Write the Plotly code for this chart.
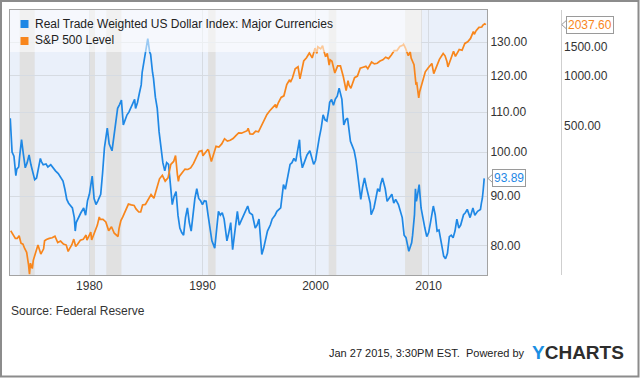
import math
import plotly.graph_objects as go

# ---------------- data ----------------
usd_dates = [
    "1973-01", "1973-02", "1973-03", "1973-05", "1973-07", "1973-08", "1973-10", "1973-11",
    "1974-01", "1974-03", "1974-04", "1974-05", "1974-07", "1974-09", "1974-11",
    "1975-01", "1975-03", "1975-05", "1975-07", "1975-09", "1975-10", "1975-12",
    "1976-03", "1976-05", "1976-08", "1976-11",
    "1977-01", "1977-04", "1977-07", "1977-09", "1977-11",
    "1978-01", "1978-03", "1978-05", "1978-07", "1978-09", "1978-10", "1978-11",
    "1979-02", "1979-04", "1979-07", "1979-09", "1979-11",
    "1980-01", "1980-03", "1980-04", "1980-06", "1980-08", "1980-10",
    "1981-01", "1981-03", "1981-05", "1981-08", "1981-10",
    "1982-01", "1982-03", "1982-05", "1982-07", "1982-09", "1982-11",
    "1983-01", "1983-03", "1983-05", "1983-07", "1983-09", "1983-11",
    "1984-01", "1984-02", "1984-04", "1984-06", "1984-08", "1984-09", "1984-11",
    "1985-01", "1985-03", "1985-05", "1985-06", "1985-08", "1985-09", "1985-11",
    "1986-01", "1986-03", "1986-05", "1986-07", "1986-09", "1986-11",
    "1987-01", "1987-03", "1987-05", "1987-07", "1987-09", "1987-11",
    "1988-01", "1988-03", "1988-05", "1988-07", "1988-09", "1988-11",
    "1989-01", "1989-03", "1989-05", "1989-07", "1989-09", "1989-11",
    "1990-01", "1990-03", "1990-05", "1990-07", "1990-09", "1990-11",
    "1991-02", "1991-04", "1991-06", "1991-08", "1991-10", "1991-12",
    "1992-03", "1992-05", "1992-07", "1992-09", "1992-11",
    "1993-02", "1993-04", "1993-07", "1993-09", "1993-11",
    "1994-01", "1994-03", "1994-06", "1994-09", "1994-11",
    "1995-01", "1995-03", "1995-04", "1995-06", "1995-08", "1995-10",
    "1996-01", "1996-03", "1996-06", "1996-08", "1996-12",
    "1997-03", "1997-05", "1997-07", "1997-10", "1997-12",
    "1998-02", "1998-04", "1998-06", "1998-08", "1998-09", "1998-11",
    "1999-01", "1999-04", "1999-07", "1999-09", "1999-11",
    "2000-01", "2000-03", "2000-05", "2000-07", "2000-09", "2000-11",
    "2001-01", "2001-03", "2001-04", "2001-06", "2001-08", "2001-10", "2001-12",
    "2002-02", "2002-04", "2002-05", "2002-07", "2002-09", "2002-11",
    "2003-01", "2003-02", "2003-04", "2003-06", "2003-08", "2003-10",
    "2004-01", "2004-03", "2004-05", "2004-07", "2004-09", "2004-11", "2004-12",
    "2005-01", "2005-03", "2005-05", "2005-07", "2005-09", "2005-10", "2005-12",
    "2006-02", "2006-03", "2006-05", "2006-07", "2006-10", "2006-12",
    "2007-02", "2007-05", "2007-07", "2007-09", "2007-11",
    "2008-01", "2008-04", "2008-07", "2008-08", "2008-10", "2008-11", "2008-12",
    "2009-01", "2009-03", "2009-05", "2009-07", "2009-09", "2009-11",
    "2010-01", "2010-03", "2010-06", "2010-08", "2010-10", "2010-12",
    "2011-01", "2011-03", "2011-05", "2011-07", "2011-09", "2011-11",
    "2012-01", "2012-03", "2012-05", "2012-07", "2012-09", "2012-11",
    "2013-02", "2013-04", "2013-06", "2013-09", "2013-12",
    "2014-02", "2014-05", "2014-08", "2014-09", "2014-10", "2014-11", "2014-12",
]
usd_values = [
    108.4, 104.0, 100.0, 99.0, 94.5, 96.0, 96.5, 99.0,
    103.0, 99.5, 97.0, 96.3, 97.5, 99.3, 97.0,
    95.0, 93.6, 94.0, 96.0, 98.5, 97.8, 97.0,
    97.2, 96.5, 97.0, 96.0,
    95.6, 95.0, 94.0, 93.3, 91.5,
    89.3, 88.5, 88.0, 87.5, 85.5, 82.8, 84.5,
    85.8, 86.5, 87.5, 86.0, 89.0,
    90.4, 93.0, 94.4, 89.5, 88.2, 89.0,
    90.4, 95.0, 101.0, 105.9, 102.0,
    100.3, 104.0, 106.5, 111.0, 112.0, 113.2,
    106.7, 108.0, 109.3, 110.0, 111.0, 112.0,
    113.4, 111.0, 112.5, 115.0, 117.4, 121.0, 124.1,
    127.5, 131.1, 127.0, 126.3, 121.0, 119.3, 114.0,
    111.0, 105.0, 100.3, 97.5, 95.6, 97.5,
    97.1, 92.0, 88.2, 90.0, 91.0, 86.0,
    83.4, 82.5, 82.0, 85.5, 87.5, 84.5,
    82.8, 86.0, 89.5, 91.6, 89.5, 89.0,
    88.2, 89.0, 88.9, 86.0, 83.0, 80.9,
    79.5, 83.0, 86.8, 86.0, 86.5, 85.2,
    80.9, 82.5, 84.5, 79.2, 82.0,
    86.8, 84.0, 85.2, 86.0, 87.0,
    87.9, 86.5, 86.1, 83.4, 84.0,
    85.2, 80.0, 78.3, 79.5, 81.5, 82.8,
    84.0, 85.2, 86.0, 86.8, 87.5,
    92.5, 91.5, 94.0, 97.1, 97.5,
    98.5, 97.8, 100.0, 103.0, 99.0, 96.3,
    97.5, 99.3, 100.3, 98.5, 97.1,
    98.0, 101.0, 103.5, 105.9, 109.3, 108.0,
    107.7, 110.5, 112.6, 113.4, 111.8, 113.5, 114.3,
    116.5, 114.5, 113.4, 106.7, 108.0, 108.4,
    104.5, 102.6, 101.5, 100.3, 98.0, 94.8,
    89.3, 92.0, 94.0, 92.0, 90.4, 88.5, 86.1,
    86.5, 87.5, 89.5, 91.6, 91.0, 92.5, 94.0,
    92.5, 91.6, 88.9, 89.5, 90.4, 88.5,
    89.3, 88.2, 86.8, 85.5, 82.0,
    81.5, 78.9, 80.5, 82.0, 86.1, 91.6, 88.9,
    90.0, 92.5, 87.5, 85.0, 83.4, 81.7,
    82.5, 84.5, 87.9, 86.1, 82.8, 83.0,
    81.7, 80.0, 78.0, 77.5, 78.5, 81.7,
    82.0, 81.5, 82.8, 85.2, 83.4, 84.0,
    86.1, 86.5, 87.2, 85.5, 87.5,
    86.0, 86.8, 87.2, 88.5, 89.5, 91.5, 93.89,
]

spx_dates = [
    "1973-01", "1973-03", "1973-06", "1973-08", "1973-10", "1973-12",
    "1974-02", "1974-04", "1974-06", "1974-08", "1974-09", "1974-10", "1974-12",
    "1975-01", "1975-03", "1975-06", "1975-09", "1975-12",
    "1976-01", "1976-03", "1976-06", "1976-09", "1976-12",
    "1977-03", "1977-06", "1977-09", "1977-12",
    "1978-02", "1978-03", "1978-06", "1978-08", "1978-10", "1978-12",
    "1979-03", "1979-06", "1979-09", "1979-10", "1979-12",
    "1980-02", "1980-03", "1980-06", "1980-09", "1980-11", "1980-12",
    "1981-03", "1981-06", "1981-09", "1981-12",
    "1982-03", "1982-07", "1982-08", "1982-10", "1982-12",
    "1983-03", "1983-06", "1983-09", "1983-12",
    "1984-02", "1984-05", "1984-07", "1984-09", "1984-12",
    "1985-03", "1985-06", "1985-09", "1985-12",
    "1986-03", "1986-06", "1986-09", "1986-12",
    "1987-03", "1987-06", "1987-08", "1987-10", "1987-11", "1987-12",
    "1988-03", "1988-06", "1988-09", "1988-12",
    "1989-03", "1989-06", "1989-09", "1989-12",
    "1990-01", "1990-06", "1990-07", "1990-10", "1990-12",
    "1991-03", "1991-06", "1991-09", "1991-12",
    "1992-03", "1992-06", "1992-09", "1992-12",
    "1993-03", "1993-06", "1993-09", "1993-12",
    "1994-01", "1994-03", "1994-06", "1994-09", "1994-12",
    "1995-03", "1995-06", "1995-09", "1995-12",
    "1996-03", "1996-06", "1996-07", "1996-09", "1996-12",
    "1997-03", "1997-06", "1997-09", "1997-10", "1997-12",
    "1998-03", "1998-06", "1998-08", "1998-09", "1998-12",
    "1999-03", "1999-06", "1999-09", "1999-12",
    "2000-02", "2000-03", "2000-06", "2000-08", "2000-09", "2000-11", "2000-12",
    "2001-01", "2001-03", "2001-04", "2001-06", "2001-09", "2001-12",
    "2002-03", "2002-06", "2002-07", "2002-09", "2002-11", "2002-12",
    "2003-02", "2003-06", "2003-09", "2003-12",
    "2004-03", "2004-06", "2004-08", "2004-12",
    "2005-03", "2005-06", "2005-09", "2005-12",
    "2006-03", "2006-06", "2006-09", "2006-12",
    "2007-03", "2007-06", "2007-09", "2007-10", "2007-12",
    "2008-03", "2008-05", "2008-06", "2008-09", "2008-10", "2008-11", "2008-12",
    "2009-02", "2009-03", "2009-06", "2009-09", "2009-12",
    "2010-04", "2010-06", "2010-09", "2010-12",
    "2011-04", "2011-06", "2011-08", "2011-09", "2011-12",
    "2012-03", "2012-05", "2012-09", "2012-12",
    "2013-03", "2013-06", "2013-09", "2013-12",
    "2014-01", "2014-03", "2014-06", "2014-09", "2014-10", "2014-12",
]
spx_values = [
    116.0, 111.5, 104.3, 104.3, 108.3, 97.6,
    96.2, 90.3, 86.0, 72.2, 63.5, 73.9, 68.6,
    76.9, 83.4, 95.2, 83.9, 90.2,
    100.9, 102.8, 104.3, 105.2, 107.5,
    98.4, 100.5, 96.5, 95.1,
    87.0, 89.2, 95.5, 103.3, 93.2, 96.1,
    101.6, 102.9, 109.3, 101.8, 107.9,
    113.7, 102.1, 114.2, 125.5, 140.5, 135.8,
    136.0, 131.2, 116.2, 122.6,
    112.0, 107.1, 119.5, 133.7, 140.6,
    153.0, 168.1, 166.1, 164.9,
    157.1, 150.6, 150.7, 166.1, 167.2,
    180.7, 191.9, 182.1, 211.3,
    238.9, 250.8, 231.3, 242.2,
    291.7, 304.0, 329.8, 251.8, 230.3, 247.1,
    258.9, 273.5, 271.9, 277.7,
    294.9, 318.0, 349.2, 353.4,
    329.1, 358.0, 356.2, 304.0, 330.2,
    375.2, 371.2, 387.9, 417.1,
    403.7, 408.1, 417.8, 435.7,
    451.7, 450.5, 458.9, 466.5,
    481.6, 445.8, 444.3, 462.7, 459.3,
    500.7, 544.8, 584.4, 615.9,
    645.5, 670.6, 639.9, 687.3, 740.7,
    757.1, 885.1, 947.3, 914.6, 970.4,
    1101.8, 1133.8, 957.3, 1017.0, 1229.2,
    1286.4, 1372.7, 1282.7, 1469.3,
    1366.4, 1498.6, 1454.6, 1517.7, 1436.5, 1315.2, 1320.3,
    1366.0, 1160.3, 1249.5, 1224.4, 1040.9, 1148.1,
    1147.4, 989.8, 911.6, 815.3, 936.3, 879.8,
    841.2, 974.5, 996.0, 1111.9,
    1126.2, 1140.8, 1104.2, 1211.9,
    1180.6, 1191.3, 1228.8, 1248.3,
    1294.9, 1270.2, 1335.9, 1418.3,
    1420.9, 1503.4, 1526.8, 1549.4, 1468.4,
    1322.7, 1400.4, 1280.0, 1166.4, 968.8, 896.2, 903.3,
    735.1, 797.9, 919.3, 1057.1, 1115.1,
    1186.7, 1030.7, 1141.2, 1257.6,
    1363.6, 1320.6, 1219.0, 1131.4, 1257.6,
    1408.5, 1310.3, 1440.7, 1426.2,
    1569.2, 1606.3, 1681.6, 1848.4,
    1782.6, 1872.3, 1960.2, 1972.3, 2018.1, 2058.9,
]
spx_last_date = "2015-01-27"
spx_last_value = 2037.60

recession_starts = ["1973-11-01", "1980-01-01", "1981-07-01", "1990-07-01", "2001-03-01", "2007-12-01"]
recession_ends = ["1975-03-01", "1980-07-01", "1982-11-01", "1991-03-01", "2001-11-01", "2009-06-01"]

usd_ticks = [80, 90, 100, 110, 120, 130]
spx_ticks = [500, 1000, 1500]
year_ticks = ["1980-01-01", "1990-01-01", "2000-01-01", "2010-01-01"]
year_labels = ["1980", "1990", "2000", "2010"]

usd_range = [74.55, 140.4]
spx_range = [62.7, 2497]
x_range = ["1972-12-24", "2015-03-01"]

# ---------------- styling ----------------
W, H = 640, 378
ML, MR, MT, MB = 10, 10, 10, 103
PW, PH = W - ML - MR, H - MT - MB
X_DOMAIN_END = (487 - ML) / PW
Y2_POS = (560.7 - ML) / PW

BLUE = "#1f88e5"
ORANGE = "#f8861c"
FONT = "Arial, Liberation Sans, sans-serif"
TXT = "#333333"


def px_x(px):
    return (px - ML) / PW


def px_y(py):
    return (MT + PH - py) / PH


def paper_y(value, rng):
    lo, hi = math.log10(rng[0]), math.log10(rng[1])
    return (math.log10(value) - lo) / (hi - lo)


fig = go.Figure()

fig.add_trace(go.Scatter(
    x=[d + "-15" for d in spx_dates] + [spx_last_date],
    y=spx_values + [spx_last_value],
    mode="lines", line=dict(color=ORANGE, width=1.7),
    yaxis="y2", showlegend=False, hoverinfo="skip",
))
fig.add_trace(go.Scatter(
    x=[d + "-01" for d in usd_dates], y=usd_values,
    mode="lines", line=dict(color=BLUE, width=1.7),
    yaxis="y", showlegend=False, hoverinfo="skip",
))

shapes = []
for s, e in zip(recession_starts, recession_ends):
    shapes.append(dict(type="rect", xref="x", yref="paper", x0=s, x1=e, y0=0, y1=1,
                       fillcolor="#e1e1e1", line=dict(width=0), layer="below"))

# translucent legend panel
shapes.append(dict(type="rect", xref="paper", yref="paper",
                   x0=0, x1=px_x(421), y0=px_y(52), y1=1,
                   fillcolor="rgba(255,255,255,0.55)", line=dict(width=0), layer="above"))
# legend squares
shapes.append(dict(type="rect", xref="paper", yref="paper",
                   x0=px_x(20.5), x1=px_x(28.5), y0=px_y(28), y1=px_y(20),
                   fillcolor=BLUE, line=dict(width=0), layer="above"))
shapes.append(dict(type="rect", xref="paper", yref="paper",
                   x0=px_x(20.5), x1=px_x(28.5), y0=px_y(45), y1=px_y(37),
                   fillcolor=ORANGE, line=dict(width=0), layer="above"))
# outer frame
shapes.append(dict(type="rect", xref="paper", yref="paper",
                   x0=px_x(1), x1=px_x(638.5), y0=px_y(376.5), y1=px_y(1),
                   line=dict(color="#8c8c8c", width=2), fillcolor="rgba(0,0,0,0)", layer="above"))

# pointer triangles for last-value flags
usd_last_py = paper_y(usd_values[-1], usd_range)
spx_last_py = paper_y(spx_last_value, spx_range)
for xa, ya in [(X_DOMAIN_END, usd_last_py), (Y2_POS, spx_last_py)]:
    shapes.append(dict(type="path", xref="paper", yref="paper",
                       xsizemode="pixel", ysizemode="pixel", xanchor=xa, yanchor=ya,
                       path="M1,0 L6,4.5 L6,-4.5 Z",
                       fillcolor="white", line=dict(color="#9a9a9a", width=1), layer="above"))

annotations = [
    dict(text="Real Trade Weighted US Dollar Index: Major Currencies", xref="paper", yref="paper",
         x=px_x(33), y=px_y(24), xanchor="left", yanchor="middle", showarrow=False,
         font=dict(family=FONT, size=12, color="#222222")),
    dict(text="S&P 500 Level", xref="paper", yref="paper",
         x=px_x(33), y=px_y(40.5), xanchor="left", yanchor="middle", showarrow=False,
         font=dict(family=FONT, size=12, color="#222222")),
    dict(text=f"{usd_values[-1]:.2f}", xref="paper", yref="paper",
         x=X_DOMAIN_END, y=usd_last_py, xanchor="left", yanchor="middle", xshift=5,
         showarrow=False, font=dict(family=FONT, size=12, color=BLUE),
         bgcolor="white", bordercolor="#9a9a9a", borderwidth=1, borderpad=1),
    dict(text=f"{spx_last_value:.2f}", xref="paper", yref="paper",
         x=Y2_POS, y=spx_last_py, xanchor="left", yanchor="middle", xshift=5,
         showarrow=False, font=dict(family=FONT, size=12, color=ORANGE),
         bgcolor="white", bordercolor="#9a9a9a", borderwidth=1, borderpad=1),
    dict(text="Source: Federal Reserve", xref="paper", yref="paper",
         x=px_x(9), y=px_y(311), xanchor="left", yanchor="middle", showarrow=False,
         font=dict(family=FONT, size=12, color=TXT)),
    dict(text="Jan 27 2015, 3:30PM EST.  Powered by", xref="paper", yref="paper",
         x=px_x(527), y=px_y(353), xanchor="right", yanchor="middle", showarrow=False,
         font=dict(family=FONT, size=11, color="#222222")),
    dict(text="<b><span style='color:#1a8fe3'>Y</span>CHARTS</b>", xref="paper", yref="paper",
         x=px_x(530), y=px_y(352), xanchor="left", yanchor="middle", showarrow=False,
         font=dict(family=FONT, size=19, color="#2d2d2d")),
]

GRID = "#d6dbe2"
fig.update_layout(
    width=W, height=H,
    margin=dict(l=ML, r=MR, t=MT, b=MB),
    paper_bgcolor="white", plot_bgcolor="#eaf0fa",
    showlegend=False, hovermode=False,
    font=dict(family=FONT, size=12, color=TXT),
    xaxis=dict(type="date", domain=[0, X_DOMAIN_END], range=x_range,
               tickvals=year_ticks, ticktext=year_labels,
               showgrid=True, gridcolor=GRID, gridwidth=1,
               showline=True, linecolor="#a3a3a3", linewidth=1, mirror=True,
               ticks="", zeroline=False, tickfont=dict(size=12, color=TXT)),
    yaxis=dict(type="log", side="right", anchor="x",
               range=[math.log10(usd_range[0]), math.log10(usd_range[1])],
               tickvals=usd_ticks, ticktext=[f"{v:.2f}" for v in usd_ticks],
               showgrid=True, gridcolor=GRID, gridwidth=1,
               showline=True, linecolor="#a3a3a3", linewidth=1, mirror=True,
               ticks="", zeroline=False, tickfont=dict(size=12, color=TXT)),
    yaxis2=dict(type="log", side="right", overlaying="y", anchor="free", position=Y2_POS,
                range=[math.log10(spx_range[0]), math.log10(spx_range[1])],
                tickvals=spx_ticks, ticktext=[f"{v:.2f}" for v in spx_ticks],
                showgrid=False, showline=True, linecolor="#cfcfcf", linewidth=1,
                ticks="", zeroline=False, tickfont=dict(size=12, color=TXT)),
    shapes=shapes,
    annotations=annotations,
)

fig.write_html(
    "out.html",
    config={"displayModeBar": False, "staticPlot": True},
    post_script="document.body.style.margin='0';document.body.style.overflow='hidden';",
)
